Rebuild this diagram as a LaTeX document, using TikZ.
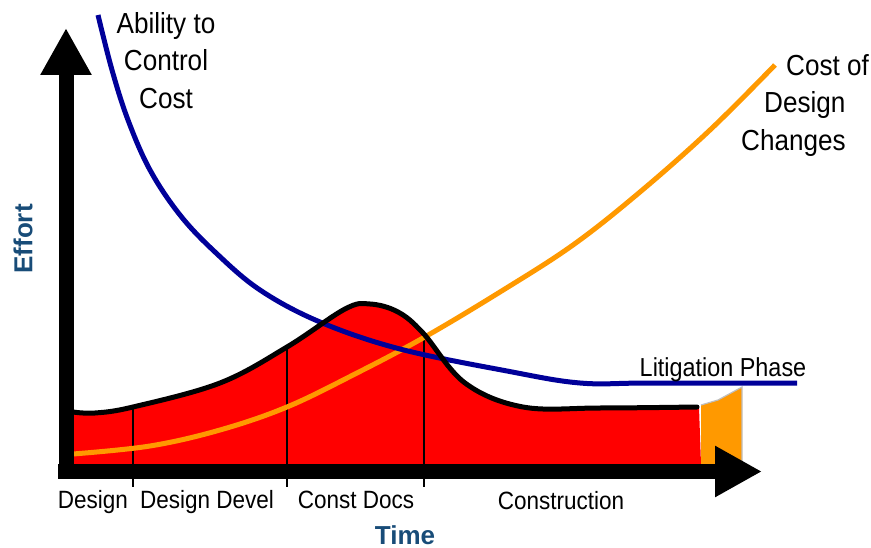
\documentclass[tikz,border=0pt]{standalone}
\usepackage{fontspec}
\setmainfont{Liberation Sans}[FakeStretch=0.9]
\newfontfamily\axisfont{Liberation Sans}
\usepackage{tikz}
\usetikzlibrary{arrows.meta}
\definecolor{navyline}{RGB}{0,0,153}
\definecolor{orangeline}{RGB}{255,153,0}
\definecolor{labelblue}{RGB}{24,76,120}

\begin{document}
\begin{tikzpicture}[x=1pt,y=-1pt,>={Triangle[length=47pt,width=48pt]},
  axis/.style={line width=15pt,->},
  phase/.style={anchor=base,inner sep=0pt,font=\fontsize{25}{30}\selectfont},
  curvelabel/.style={inner sep=0pt,font=\fontsize{29}{37.5}\selectfont},
  axislabel/.style={inner sep=0pt,text=labelblue,font=\axisfont\bfseries\fontsize{26}{30}\selectfont}]
\useasboundingbox (0,0) rectangle (871,548);

\fill[red] (66,464) -- plot[smooth,tension=0.6] coordinates {(73,412) (95,413) (133,407) (220,383) (287,347) (345,309) (370,304) (398,312) (423,333) (465,383) (523,407) (600,408) (699,407)} -- (701,464) -- cycle;
\fill[orangeline] (701,405) -- (718,400) -- (742,387) -- (742,464) -- (701,464) -- cycle;
\draw[black!25,line width=1.2pt] (701,405) -- (718,400) -- (742,387) -- (742,464);

\foreach \x/\ytop in {133/407, 287/347, 424/333}
  \draw[line width=1.6pt] (\x,\ytop) -- (\x,487);

\draw[orangeline,line width=5pt] plot[smooth,tension=0.6] coordinates {(73,454) (150,446) (220,430) (287,407) (355,374) (423,338) (500,292) (573,245) (640,192) (710,130) (775,65)};
\draw[navyline,line width=5pt] plot[smooth,tension=0.6] coordinates {(98,15) (112,70) (128,120) (150,170) (180,215) (215,252) (260,290) (320,322) (400,349) (507,371) (580,383) (650,383) (797,383)};
\draw[line width=5pt,line cap=round] plot[smooth,tension=0.6] coordinates {(73,412) (95,413) (133,407) (220,383) (287,347) (345,309) (370,304) (398,312) (423,333) (465,383) (523,407) (600,408) (697,407)};

\coordinate (origin) at (58,471.5);
\coordinate (xtip) at (762,471.5);
\coordinate (ybase) at (66,479);
\coordinate (ytip) at (66,28);
\draw[axis] (origin) -- (xtip);
\draw[axis] (ybase) -- (ytip);

\node[phase] (design) at (93,508) {Design};
\node[phase] (devel) at (207,508) {Design Devel};
\node[phase] (docs) at (356,508) {Const Docs};
\node[phase] (construction) at (561,509) {Construction};
\node[axislabel,anchor=base] (time) at (405,544) {Time};
\node[axislabel,rotate=90] (effort) at (23,239) {Effort};
\node[curvelabel,align=center,anchor=north] (ability) at (166,12) {Ability to\\Control\\Cost};
\node[curvelabel,align=left,anchor=north west] (costchange) at (741,54) {\hspace*{45pt}Cost of\\\hspace*{23pt}Design\\Changes};
\node[inner sep=0pt,anchor=base,font=\fontsize{26}{30}\selectfont] (litigation) at (723,377) {Litigation Phase};
\end{tikzpicture}
\end{document}
